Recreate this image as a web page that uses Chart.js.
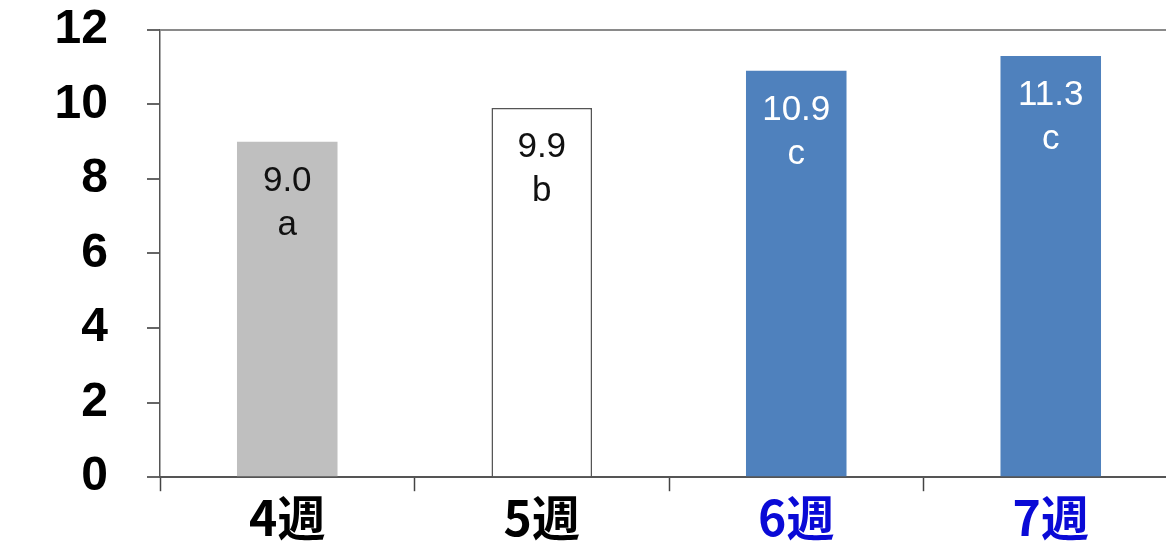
<!DOCTYPE html>
<html>
<head>
<meta charset="utf-8">
<script src="https://cdn.jsdelivr.net/npm/chart.js@4/dist/chart.umd.min.js"></script>
<style>
  html, body { margin: 0; padding: 0; background: #fff; overflow: hidden; }
  #wrap { position: absolute; left: 0; top: -38px; width: 1180px; height: 583px; }
</style>
</head>
<body>
<div id="wrap"><canvas id="c" width="1180" height="583"></canvas></div>
<script>
// data
const weeks = ['4週', '5週', '6週', '7週'];
const values = [9.0, 9.9, 10.9, 11.3];
const letters = ['a', 'b', 'c', 'c'];
const yTicks = [0, 2, 4, 6, 8, 10, 12];

const barColors = ['#bfbfbf', '#ffffff', '#4f81bd', '#4f81bd'];
const barBorders = ['#bfbfbf', '#555555', '#4f81bd', '#4f81bd'];
const labelColors = ['#000000', '#000000', '#0a0ad6', '#0a0ad6'];
const textColors = ['#111111', '#111111', '#ffffff', '#ffffff'];

// value + letter inside each bar
const barText = {
  id: 'barText',
  afterDatasetsDraw(chart) {
    const ctx = chart.ctx;
    const meta = chart.getDatasetMeta(0);
    ctx.save();
    ctx.font = '35px Arial, "Liberation Sans", sans-serif';
    ctx.textAlign = 'center';
    ctx.textBaseline = 'alphabetic';
    meta.data.forEach((bar, i) => {
      ctx.fillStyle = textColors[i];
      ctx.fillText(values[i].toFixed(1), bar.x, bar.y + 49);
      ctx.fillText(letters[i], bar.x, bar.y + 93);
    });
    ctx.restore();
  }
};

new Chart(document.getElementById('c'), {
  type: 'bar',
  data: {
    labels: weeks,
    datasets: [{
      data: values,
      backgroundColor: barColors,
      borderColor: barBorders,
      borderWidth: [0, 1.5, 0, 0],
      borderSkipped: 'bottom',
      barPercentage: 0.395,
      categoryPercentage: 1.0
    }]
  },
  options: {
    responsive: false,
    animation: false,
    devicePixelRatio: 1,
    layout: { padding: { top: 30, left: 0, right: 2, bottom: 0 } },
    plugins: {
      legend: { display: false },
      tooltip: { enabled: false }
    },
    scales: {
      x: {
        grid: {
          offset: true,
          drawOnChartArea: false,
          tickLength: 14,
          tickColor: '#444',
          tickWidth: 1.5
        },
        border: { color: '#555', width: 2 },
        ticks: {
          padding: -2,
          color: (c) => labelColors[c.index],
          font: { family: '"Noto Sans CJK JP", Arial, sans-serif', size: 48, weight: 'bold' }
        },
        afterFit: (s) => { s.height = 64; }
      },
      y: {
        min: 0,
        max: 12,
        afterBuildTicks: (s) => { s.ticks = yTicks.map(v => ({ value: v })); },
        grid: {
          color: (c) => c.tick && c.tick.value === 12 ? '#8a8a8a' : 'rgba(0,0,0,0)',
          lineWidth: 2,
          tickColor: '#666',
          tickLength: 13,
          tickWidth: 2
        },
        border: { color: '#555', width: 1.5 },
        ticks: {
          padding: 39,
          color: '#000',
          font: { family: 'Arial, "Liberation Sans", sans-serif', size: 48, weight: 'bold' }
        },
        afterFit: (s) => { s.width = 160; }
      }
    }
  },
  plugins: [barText]
});
</script>
</body>
</html>
